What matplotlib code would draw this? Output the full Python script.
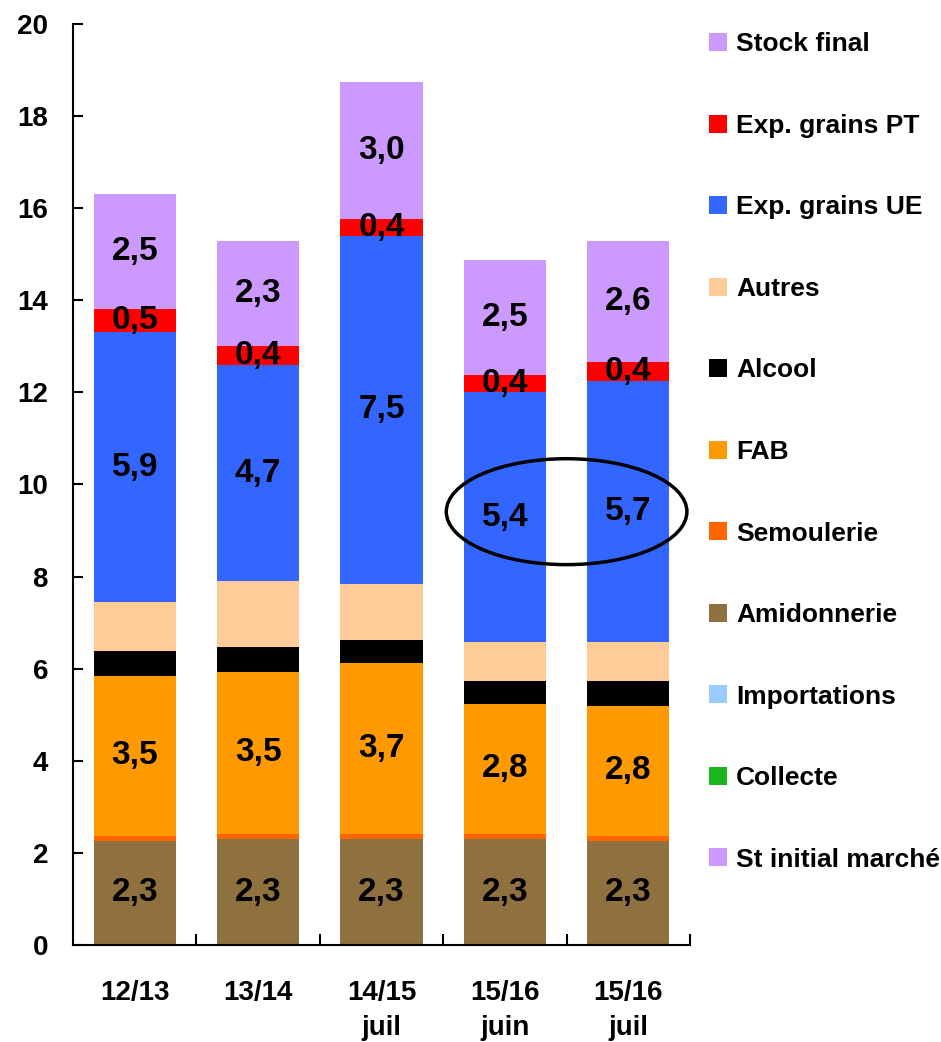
import matplotlib.pyplot as plt
from matplotlib.patches import Ellipse

# --- DATA ---
categories = ['12/13', '13/14', '14/15\njuil', '15/16\njuin', '15/16\njuil']

# stacked bottom -> top
st_initial = [0, 0, 0, 0, 0]
collecte = [0, 0, 0, 0, 0]
importations = [0, 0, 0, 0, 0]
amidonnerie = [2.26, 2.30, 2.30, 2.30, 2.26]
semoulerie = [0.11, 0.11, 0.11, 0.11, 0.11]
fab = [3.48, 3.52, 3.72, 2.83, 2.83]
alcool = [0.54, 0.55, 0.50, 0.50, 0.54]
autres = [1.05, 1.42, 1.22, 0.83, 0.83]
exp_ue = [5.87, 4.69, 7.54, 5.44, 5.67]
exp_pt = [0.50, 0.41, 0.37, 0.37, 0.41]
stock_final = [2.50, 2.28, 2.98, 2.50, 2.64]

series = [
    ('St initial marché', st_initial, '#CC99FF', False),
    ('Collecte', collecte, '#1DB51D', False),
    ('Importations', importations, '#99CCFF', False),
    ('Amidonnerie', amidonnerie, '#8E713E', True),
    ('Semoulerie', semoulerie, '#FF6600', False),
    ('FAB', fab, '#FF9900', True),
    ('Alcool', alcool, '#000000', False),
    ('Autres', autres, '#FFCC99', False),
    ('Exp. grains UE', exp_ue, '#3366FF', True),
    ('Exp. grains PT', exp_pt, '#FF0000', True),
    ('Stock final', stock_final, '#CC99FF', True),
]

plt.rcParams['font.family'] = ['Liberation Sans', 'DejaVu Sans']
plt.rcParams['font.weight'] = 'bold'

fig = plt.figure(figsize=(9.41, 10.42), dpi=100)
ax = fig.add_axes([73 / 941, 97 / 1042, 617 / 941, 921 / 1042])

x = list(range(len(categories)))
bottom = [0.0] * len(categories)
handles = []
for name, vals, color, labelled in series:
    bars = ax.bar(x, vals, width=0.665, bottom=bottom, color=color,
                  edgecolor='none', label=name, zorder=2)
    handles.append(bars)
    if labelled:
        labels = [f'{v:.1f}'.replace('.', ',') for v in vals]
        ax.bar_label(bars, labels=labels, label_type='center',
                     fontsize=24, fontweight='bold', color='black', zorder=5)
    bottom = [b + v for b, v in zip(bottom, vals)]

# highlight ellipse around the two latest UE exports
ax.add_patch(Ellipse((3.5, 9.41), 1.95, 2.3, fill=False,
                     edgecolor='black', lw=2.5, zorder=4))

# --- AXES ---
ax.set_xlim(-0.5, 4.5)
ax.set_ylim(0, 20)
ax.set_yticks(range(0, 21, 2))
ax.tick_params(axis='y', direction='in', length=7, width=1.5,
               labelsize=20, pad=18)
ax.set_xticks([0.5, 1.5, 2.5, 3.5, 4.5])
ax.set_xticklabels([])
ax.set_xticks(x, minor=True)
ax.set_xticklabels(categories, minor=True, fontsize=20, linespacing=1.45)
ax.tick_params(axis='x', which='major', direction='in', length=8, width=1.5)
ax.tick_params(axis='x', which='minor', length=0, pad=25)
for lbl in ax.get_yticklabels() + ax.get_xticklabels(minor=True):
    lbl.set_fontweight('bold')

for side in ['top', 'right']:
    ax.spines[side].set_visible(False)
for side in ['left', 'bottom']:
    ax.spines[side].set_linewidth(1.5)

# --- LEGEND ---
fig.legend(handles[::-1], [s[0] for s in series][::-1],
           loc='center left', bbox_to_anchor=(709 / 941, 1 - 452 / 1042),
           frameon=False, fontsize=19, labelspacing=2.18,
           handlelength=0.68, handleheight=0.68, handletextpad=0.35,
           borderpad=0, borderaxespad=0)

fig.savefig('out.png', dpi=100)
